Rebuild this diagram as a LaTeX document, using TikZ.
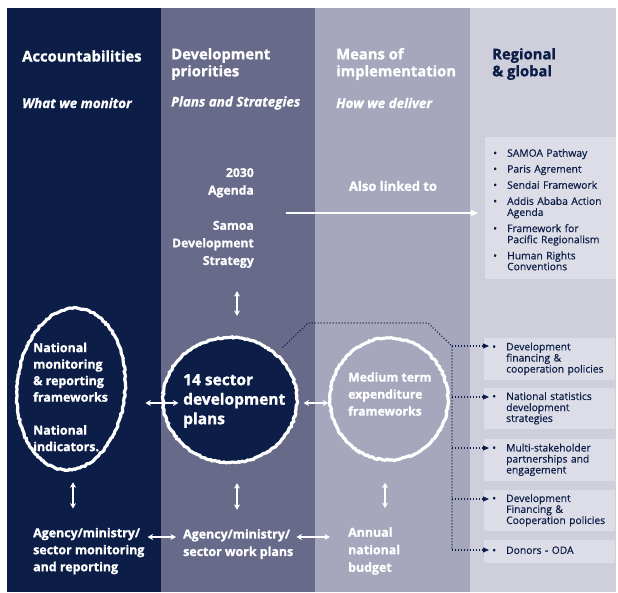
\documentclass[tikz,border=0pt]{standalone}
\usepackage{fontspec}
\setmainfont{Open Sans}[BoldFeatures={FakeBold=1.2},BoldItalicFeatures={FakeBold=1.2}]
\newfontfamily\listfont{Open Sans}[FakeBold=0.5]
\usetikzlibrary{shapes.geometric,arrows.meta,decorations.pathmorphing}
\definecolor{navy}{RGB}{12,30,72}
\definecolor{colB}{RGB}{104,106,138}
\definecolor{colC}{RGB}{166,167,188}
\definecolor{colD}{RGB}{207,207,220}
\definecolor{boxc}{RGB}{221,221,231}
\newcommand\bl{\textbullet}
\begin{document}
\begin{tikzpicture}[x=1pt,y=-1pt,
  hd/.style={text=white, font=\bfseries\fontsize{14.8}{17}\selectfont, align=left, anchor=west, inner sep=0pt},
  sub/.style={text=white, font=\bfseries\itshape\fontsize{13.4}{15}\selectfont, anchor=west, inner sep=0pt},
  body/.style={text=white, font=\bfseries\fontsize{12.4}{16.5}\selectfont, align=left, anchor=west, inner sep=0pt},
  ring/.style={ellipse, draw=white, line width=3.2pt, inner sep=0pt, decorate, decoration={random steps, segment length=2pt, amplitude=0.7pt}},
  warrow/.style={white, line width=1.3pt, {Stealth[length=5.5pt,width=6pt]}-{Stealth[length=5.5pt,width=6pt]}},
  dotline/.style={navy, line width=1.1pt, dash pattern=on 1.1pt off 1.9pt},
  dotarrow/.style={dotline, -{Triangle[length=6pt,width=5pt]}},
  listbox/.style={fill=boxc, text=navy, font=\listfont\fontsize{10.3}{10.9}\selectfont, anchor=north west, text width=115pt, inner xsep=8pt, inner ysep=0pt, align=left}
]
\useasboundingbox (0,0) rectangle (618,593);
\fill[white] (0,0) rectangle (618,593);
\fill[navy] (7,8) rectangle (161,592);
\fill[colB] (161,8) rectangle (315,592);
\fill[colC] (315,8) rectangle (470,592);
\fill[colD] (470,8) rectangle (616,592);

% helper coordinates
\coordinate (r403) at (0,403);
\coordinate (r537) at (0,537);
\coordinate (r213) at (0,213);
\coordinate (x73) at (73,0);
\coordinate (x237) at (237,0);
\coordinate (x385) at (385,0);

% headers
\node[hd] (h1) at (22,56) {Accountabilities};
\node[hd] (h2) at (171,64) {Development\\priorities};
\node[hd] (h3) at (336,64) {Means of\\implementation};
\node[hd, text=navy] (h4) at (492,64) {Regional\\\& global};
\node[sub] (s1) at (22,103) {What we monitor};
\node[sub] (s2) at (171,103) {Plans and Strategies};
\node[sub] (s3) at (336,103) {How we deliver};

% rings
\node[ring, rotate=-5, minimum width=108pt, minimum height=162pt] (e1) at (71,389) {};
\node[ring, fill=navy, minimum width=134pt, minimum height=125pt] (c2) at (230,400) {};
\node[ring, minimum width=118pt, minimum height=122pt] (c3) at (389,399) {};

% texts
\node[body] (e1t) at (33,397) {National\\monitoring\\\& reporting\\frameworks\\[16.5pt]National\\indicators.};
\node[body, font=\bfseries\fontsize{15.5}{19.5}\selectfont] (c2t) at (183,401) {14 sector\\development\\plans};
\node[body, font=\bfseries\fontsize{12.2}{17}\selectfont] (c3t) at (348,394) {Medium term\\expenditure\\frameworks};
\node[body, align=right, anchor=east, font=\bfseries\fontsize{12.2}{17.6}\selectfont] (s2030) at (254,218) {2030\\Agenda\\[17.6pt]Samoa\\Development\\Strategy};
\node[body, anchor=center, font=\bfseries\fontsize{13}{15}\selectfont] (alt) at (393,186) {Also linked to};
\node[body, font=\bfseries\fontsize{12.4}{17}\selectfont] (b1) at (33,551) {Agency/ministry/\\sector monitoring\\and reporting};
\node[body, font=\bfseries\fontsize{12.4}{17.5}\selectfont] (b2) at (183,544) {Agency/ministry/\\sector work plans};
\node[body, font=\bfseries\fontsize{12.4}{17.5}\selectfont] (b3) at (348,551) {Annual\\national\\budget};

% list boxes
\node[listbox, minimum height=142pt] (g1) at (485,137) {\noindent\raisebox{-3pt}[\height][\depth]{\begin{tabular}{@{}p{14pt}@{}l@{}}
\bl & SAMOA Pathway\\[5pt]
\bl & Paris Agrement\\[5pt]
\bl & Sendai Framework\\[5pt]
\bl & Addis Ababa Action\\ & Agenda\\[5pt]
\bl & Framework for\\ & Pacific Regionalism\\[5pt]
\bl & Human Rights\\ & Conventions
\end{tabular}}};
\node[listbox, minimum height=42pt] (bA) at (484,338) {\noindent\begin{tabular}{@{}p{14pt}@{}l@{}}
\bl & Development\\ & financing \&\\ & cooperation policies\end{tabular}};
\node[listbox, minimum height=41pt] (bB) at (484,388) {\noindent\begin{tabular}{@{}p{14pt}@{}l@{}}
\bl & National statistics\\ & development\\ & strategies\end{tabular}};
\node[listbox, minimum height=42pt] (bC) at (484,439) {\noindent\begin{tabular}{@{}p{14pt}@{}l@{}}
\bl & Multi-stakeholder\\ & partnerships and\\ & engagement\end{tabular}};
\node[listbox, minimum height=41pt] (bD) at (484,490) {\noindent\begin{tabular}{@{}p{14pt}@{}l@{}}
\bl & Development\\ & Financing \&\\ & Cooperation policies\end{tabular}};
\node[listbox, minimum height=23pt] (bE) at (484,540) {\noindent\begin{tabular}{@{}p{14pt}@{}l@{}}
\bl & Donors - ODA\end{tabular}};

% white arrows
\draw[warrow, shorten <=19pt, shorten >=-17pt] (e1.east |- r403) -- (c2.west |- r403);
\draw[warrow, shorten <=5pt, shorten >=0pt] (c2.east |- r403) -- (c3.west |- r403);
\draw[warrow, shorten <=11pt, shorten >=19pt] (e1.south -| x73) -- (x73 |- b1.north);
\draw[warrow, shorten <=19pt, shorten >=19pt] (c2.south -| x237) -- (x237 |- b2.north);
\draw[warrow, shorten <=21pt, shorten >=19pt] (c3.south -| x385) -- (x385 |- b3.north);
\draw[warrow, shorten <=23pt, shorten >=20pt] (x237 |- s2030.south) -- (x237 |- c2.north);
\draw[warrow, shorten <=3pt, shorten >=7pt] (b1.east |- r537) -- (b2.west |- r537);
\draw[warrow, shorten <=3pt, shorten >=18pt] (b2.east |- r537) -- (b3.west |- r537);
\draw[white, line width=1.5pt, -{Triangle[length=7pt,width=6pt]}, shorten <=32pt, shorten >=7pt] (s2030.east |- r213) -- (g1.west |- r213);

% dotted connectors
\coordinate (jA) at (452,346);
\coordinate (jB) at (452,397);
\coordinate (jC) at (452,448);
\coordinate (jD) at (452,499);
\coordinate (jE) at (452,550);
\coordinate (tA) at (489,346);
\coordinate (tB) at (489,397);
\coordinate (tC) at (489,448);
\coordinate (tD) at (489,499);
\coordinate (tE) at (489,550);
\draw[dotline, shorten <=8pt] (c2.45) -- (308,323) -- (428,323) -- (jA) -- (jE);
\draw[dotarrow] (jA) -- (tA);
\draw[dotarrow] (jB) -- (tB);
\draw[dotarrow] (jC) -- (tC);
\draw[dotarrow] (jD) -- (tD);
\draw[dotarrow] (jE) -- (tE);
\end{tikzpicture}
\end{document}
